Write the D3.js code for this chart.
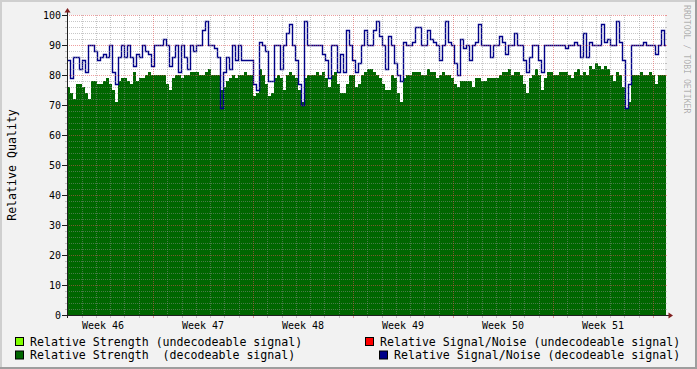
<!DOCTYPE html>
<html>
<head>
<meta charset="utf-8">
<script src="https://cdn.jsdelivr.net/npm/d3@7"></script>
<style>
body{margin:0;background:#f2f2f2;}
text{font-family:"DejaVu Sans Mono",monospace;}
</style>
</head>
<body>
<div id="chart"></div>
<script>
// week labels and y ticks
var weeks = [46, 47, 48, 49, 50, 51];
var yTicks = [0, 10, 20, 30, 40, 50, 60, 70, 80, 90, 100];
// samples: day offset from start of week 46
var startDay = 0.98, stepDay = 0.21;

var strength = [
 76,74,72,77,77,76,74,72,78,78, 77,77,78,79,77,75,71,78,79,79,
 78,77,81,78,79,79,80,81,80,80, 80,80,80,77,75,79,80,80,79,80,
 80,81,81,81,80,80,81,82,80,80, 80,75,76,78,79,80,79,80,80,81,
 80,80,73,74,82,80,77,73,74,79, 80,79,75,80,81,80,79,75,71,79,
 80,80,80,81,80,81,79,76,80,81, 77,74,74,77,80,80,76,77,80,81,
 82,82,81,80,79,77,75,75,80,79, 74,71,79,80,80,81,81,81,80,80,
 82,81,81,79,80,81,80,80,79,77, 76,78,78,78,78,76,79,79,78,78,
 79,79,79,79,80,81,81,82,80,81, 81,80,77,74,79,80,82,80,75,79,
 81,81,80,80,81,81,81,80,79,81, 82,80,81,80,83,82,84,83,82,83,
 82,80,78,81,80,76,69,71,80,80, 80,81,80,80,81,80,77,80,80,80
];

var snr = [
 85,79,86,86,82,85,81,90,90,88, 85,86,87,86,90,81,77,86,90,86,
 90,86,83,87,86,90,88,87,83,90, 90,90,92,90,83,86,90,81,90,86,
 82,90,88,90,90,95,98,90,90,89, 86,69,81,86,82,90,85,90,85,85,
 85,85,77,75,91,90,88,78,78,90, 90,82,90,94,97,90,85,77,70,98,
 90,90,90,90,90,87,85,79,90,90, 81,87,81,95,90,85,81,84,90,95,
 90,90,95,98,93,90,82,93,90,84, 80,78,91,90,90,91,96,96,90,90,
 95,92,91,90,85,90,98,91,90,84, 80,92,89,90,85,90,91,97,90,90,
 90,86,90,90,93,91,87,90,90,94, 90,90,85,81,86,90,90,85,81,90,
 90,90,90,90,90,90,89,90,90,91, 90,86,94,86,91,90,90,90,97,91,
 92,90,90,98,91,85,69,77,90,90, 90,90,91,90,90,90,87,90,95,90
];

var legendLabels = [
 "Relative Strength (undecodeable signal)",
 "Relative Signal/Noise (undecodeable signal)",
 "Relative Strength  (decodeable signal)",
 "Relative Signal/Noise (decodeable signal)"
];
var legendColors = ["#80ff00", "#ff0000", "#006600", "#000088"];

var W = 697, H = 369;
var pLeft = 67, pRight = 665, pTop = 15, pBottom = 315;

var svg = d3.select("#chart").append("svg")
  .attr("width", W).attr("height", H);

svg.append("rect").attr("width", W).attr("height", H).attr("fill", "#f2f2f2");
// 3d shading of the frame
svg.append("path").attr("d", "M0,1H" + W + "M1,0V" + H).attr("stroke", "#cfcfcf").attr("stroke-width", 2);
svg.append("path").attr("d", "M0," + (H - 1) + "H" + W + "M" + (W - 1) + ",0V" + H).attr("stroke", "#9e9e9e").attr("stroke-width", 2);

var x = d3.scaleLinear().domain([0, 42]).range([53, 653]);
var y = d3.scaleLinear().domain([0, 100]).range([pBottom, pTop]);

svg.append("rect")
  .attr("x", pLeft).attr("y", pTop)
  .attr("width", pRight - pLeft).attr("height", pBottom - pTop)
  .attr("fill", "#ffffff");

svg.append("clipPath").attr("id", "clip")
  .append("rect").attr("x", pLeft).attr("y", pTop - 5)
  .attr("width", pRight - pLeft + 1).attr("height", pBottom - pTop + 5);

function toPoints(arr) {
  var pts = arr.map(function (v, i) { return {t: startDay + i * stepDay, v: v}; });
  pts.push({t: startDay + arr.length * stepDay, v: arr[arr.length - 1]});
  return pts;
}

var plot = svg.append("g").attr("clip-path", "url(#clip)");

plot.append("path")
  .datum(toPoints(strength))
  .attr("fill", "#006600")
  .attr("d", d3.area()
    .curve(d3.curveStepAfter)
    .x(function (d) { return Math.round(x(d.t)); })
    .y0(y(0))
    .y1(function (d) { return Math.round(y(d.v)); }));

// grid
var grid = svg.append("g").attr("shape-rendering", "crispEdges");
var minorCol = "rgba(143,143,143,0.5)", majorCol = "rgba(222,79,79,0.55)";

d3.range(2, 100, 2).forEach(function (v) {
  var yy = Math.round(y(v)) + 0.5;
  var col = v % 10 === 0 ? majorCol : minorCol;
  grid.append("line").attr("x1", pLeft).attr("x2", pRight).attr("y1", yy).attr("y2", yy)
    .attr("stroke", col).attr("stroke-dasharray", "1,1");
  grid.append("line").attr("x1", pLeft - 2).attr("x2", pLeft).attr("y1", yy).attr("y2", yy).attr("stroke", col);
  grid.append("line").attr("x1", pRight).attr("x2", pRight + 2).attr("y1", yy).attr("y2", yy).attr("stroke", col);
});
grid.append("line").attr("x1", pLeft).attr("x2", pRight).attr("y1", pTop + 0.5).attr("y2", pTop + 0.5)
  .attr("stroke", majorCol).attr("stroke-dasharray", "1,1");
grid.append("line").attr("x1", pRight).attr("x2", pRight + 2).attr("y1", pTop + 0.5).attr("y2", pTop + 0.5).attr("stroke", majorCol);

d3.range(0, 43).forEach(function (d) {
  var xx = Math.round(x(d)) + 0.5;
  if (xx < pLeft + 1 || xx > pRight) return;
  var col = d % 7 === 0 ? majorCol : minorCol;
  grid.append("line").attr("x1", xx).attr("x2", xx).attr("y1", pTop).attr("y2", pBottom)
    .attr("stroke", col).attr("stroke-dasharray", "1,1");
  grid.append("line").attr("x1", xx).attr("x2", xx).attr("y1", pBottom).attr("y2", pBottom + 3).attr("stroke", col);
});

plot.append("path")
  .datum(toPoints(snr))
  .attr("fill", "none")
  .attr("stroke", "#000088")
  .attr("stroke-width", 1.4)
  .attr("d", d3.line()
    .curve(d3.curveStepAfter)
    .x(function (d) { return Math.round(x(d.t)) + 0.5; })
    .y(function (d) { return Math.round(y(d.v)) + 0.5; }));

// axes
svg.append("line").attr("x1", pLeft + 0.5).attr("x2", pLeft + 0.5).attr("y1", pBottom + 3).attr("y2", pTop - 4)
  .attr("stroke", "#1f1f1f");
svg.append("line").attr("x1", pLeft - 3).attr("x2", pRight + 4).attr("y1", pBottom + 0.5).attr("y2", pBottom + 0.5)
  .attr("stroke", "#1f1f1f");
svg.append("path").attr("d", "M64.5,12.5L70.5,12.5L67.5,8Z").attr("fill", "#801f1f");
svg.append("path").attr("d", "M668.5,312.5L668.5,318.5L673,315.5Z").attr("fill", "#801f1f");

svg.selectAll(".ylab").data(yTicks).enter().append("text")
  .attr("x", 61)
  .attr("y", function (d) { return y(d); })
  .attr("dy", "0.36em")
  .attr("text-anchor", "end")
  .style("font-size", "10px")
  .text(function (d) { return d; });

svg.selectAll(".yt").data(yTicks).enter().append("line")
  .attr("x1", 62).attr("x2", pLeft)
  .attr("y1", function (d) { return Math.round(y(d)) + 0.5; })
  .attr("y2", function (d) { return Math.round(y(d)) + 0.5; })
  .attr("stroke", "#1f1f1f");

svg.selectAll(".wk").data(weeks).enter().append("text")
  .attr("x", function (d, i) { return x(i * 7 + 3.5); })
  .attr("y", 328.5)
  .attr("text-anchor", "middle")
  .style("font-size", "10px")
  .text(function (d) { return "Week " + d; });

svg.append("text")
  .attr("transform", "translate(15.5,165) rotate(-90)")
  .attr("text-anchor", "middle")
  .style("font-size", "11.6px")
  .text("Relative Quality");

svg.append("text")
  .attr("transform", "translate(684,5) rotate(90)")
  .style("font-size", "8.2px")
  .attr("fill", "rgba(0,0,0,0.3)")
  .text("RRDTOOL / TOBI OETIKER");

// legend
var legendPos = [[15, 345.5], [365, 345.5], [15, 359], [379, 359]];
legendLabels.forEach(function (lab, i) {
  var p = legendPos[i];
  svg.append("rect")
    .attr("x", p[0] + 0.5).attr("y", p[1] - 8)
    .attr("width", 8).attr("height", 8)
    .attr("fill", legendColors[i]).attr("stroke", "#000");
  svg.append("text")
    .attr("x", p[0] + 15).attr("y", p[1])
    .attr("xml:space", "preserve")
    .style("white-space", "pre")
    .style("font-size", "11.6px")
    .text(lab);
});
</script>
</body>
</html>
